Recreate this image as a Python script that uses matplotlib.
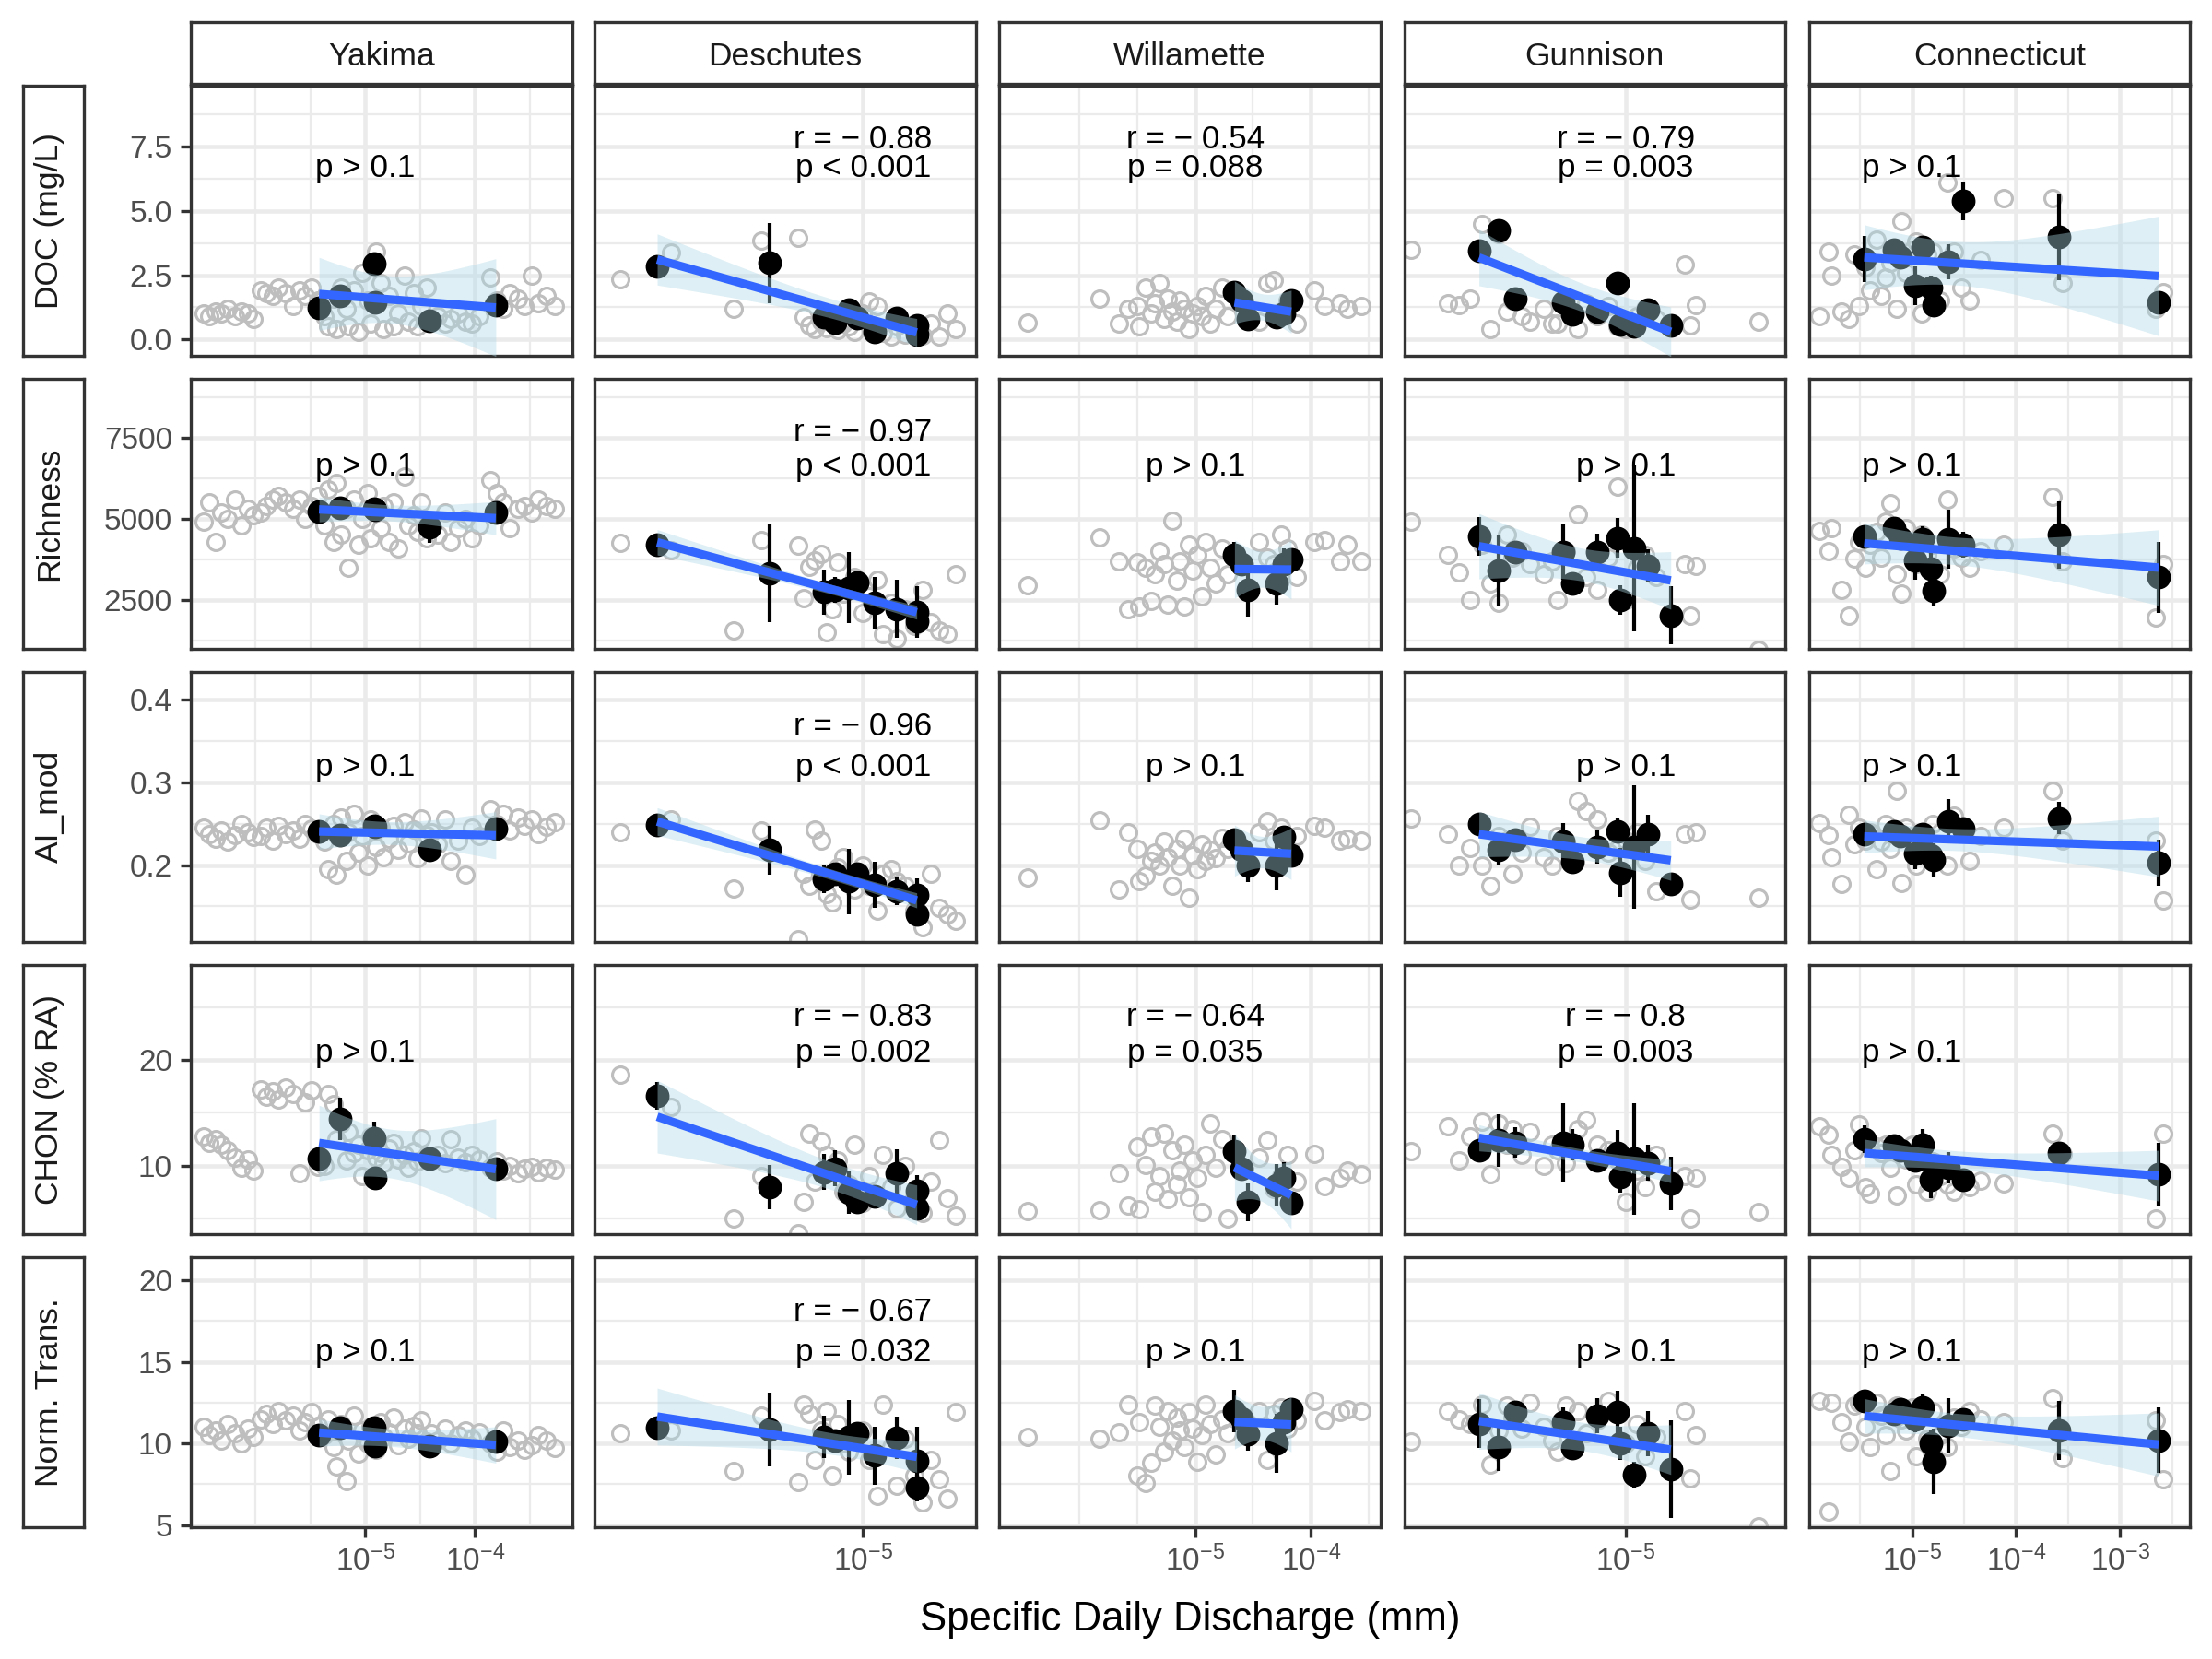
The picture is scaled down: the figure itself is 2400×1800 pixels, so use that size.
import numpy as np
import matplotlib
matplotlib.use("Agg")
import matplotlib.pyplot as plt
from matplotlib.ticker import FixedLocator, NullFormatter, LogFormatterMathtext

plt.rcParams["font.family"] = ["Liberation Sans", "DejaVu Sans"]
plt.rcParams["mathtext.fontset"] = "custom"
plt.rcParams["mathtext.rm"] = "Liberation Sans"
plt.rcParams["mathtext.it"] = "Liberation Sans"

RIVERS = ["Yakima", "Deschutes", "Willamette", "Gunnison", "Connecticut"]
VARS = ["DOC (mg/L)", "Richness", "AI_mod", "CHON (% RA)", "Norm. Trans."]

# ── raw samples (grey circles): log10 specific daily discharge, one list per river
yak_gx = [-6.47, -6.42, -6.36, -6.31, -6.25, -6.19, -6.13, -6.07, -6.02,
          -5.95, -5.90, -5.84, -5.79, -5.72, -5.66, -5.60, -5.55, -5.49, -5.43,
          -5.37, -5.34, -5.29, -5.26, -5.22, -5.17, -5.15, -5.10, -5.06, -5.03, -4.98, -4.95,
          -4.90, -4.86, -4.83, -4.78, -4.74, -4.70, -4.64, -4.61, -4.56, -4.52, -4.49, -4.44,
          -4.40, -4.34, -4.27, -4.22, -4.15, -4.09, -4.03, -3.96,
          -3.86, -3.80, -3.74, -3.68, -3.61, -3.55, -3.48, -3.42, -3.35, -3.27]
yak_g_doc = [1.0, 0.9, 1.1, 1.0, 1.2, 0.9, 1.1, 1.0, 0.8,
             1.9, 1.8, 1.7, 2.0, 1.8, 1.3, 1.9, 1.7, 2.0, 1.5,
             0.9, 0.5, 1.6, 0.4, 2.0, 1.2, 0.5, 1.9, 0.3, 2.6, 1.5, 0.6,
             3.4, 2.2, 0.4, 1.7, 0.5, 1.0, 2.5, 0.7, 1.8, 0.5, 1.3, 2.0,
             0.7, 0.9, 0.6, 0.8, 1.0, 0.7, 0.6, 0.9,
             2.4, 1.5, 1.2, 1.8, 1.6, 1.3, 2.5, 1.4, 1.7, 1.3]
yak_g_rich = [4900, 5500, 4300, 5200, 5000, 5600, 4800, 5300, 5100,
              5200, 5400, 5600, 5700, 5500, 5300, 5600, 5000, 5400, 5700,
              4800, 5900, 4300, 6100, 4500, 5300, 3500, 5600, 4200, 5000, 5800, 4400,
              5200, 4700, 5400, 4300, 5500, 4100, 6300, 4800, 5100, 4600, 5500, 4400,
              4900, 4500, 5200, 4300, 4700, 5000, 4400, 4800,
              6200, 5800, 5500, 4700, 5300, 5400, 5200, 5600, 5400, 5300]
yak_g_ai = [0.245, 0.238, 0.232, 0.242, 0.228, 0.236, 0.250, 0.240, 0.234,
            0.235, 0.245, 0.230, 0.248, 0.238, 0.242, 0.232, 0.250, 0.244, 0.237,
            0.228, 0.195, 0.250, 0.188, 0.258, 0.205, 0.240, 0.262, 0.215, 0.235, 0.200, 0.255,
            0.222, 0.245, 0.210, 0.232, 0.248, 0.218, 0.252, 0.226, 0.243, 0.208, 0.256, 0.236,
            0.240, 0.225, 0.255, 0.205, 0.230, 0.188, 0.245, 0.235,
            0.268, 0.250, 0.262, 0.242, 0.258, 0.248, 0.255, 0.238, 0.246, 0.252]
yak_g_chon = [12.8, 12.2, 12.5, 12.0, 11.5, 10.8, 9.8, 10.6, 9.5,
              17.2, 16.5, 17.0, 16.3, 17.4, 16.8, 9.3, 16.0, 17.1, 9.9,
              10.0, 16.8, 15.8, 12.5, 14.0, 10.5, 13.2, 11.2, 12.0, 9.0, 11.5, 12.8,
              10.8, 11.2, 10.2, 11.6, 12.2, 10.6, 11.0, 9.8, 11.4, 10.4, 12.6, 10.9,
              10.5, 11.0, 10.2, 12.5, 10.8, 10.3, 11.0, 10.6,
              9.8, 10.4, 9.5, 10.0, 9.3, 9.7, 9.9, 9.4, 9.8, 9.6]
yak_g_norm = [11.0, 10.5, 10.8, 10.2, 11.2, 10.6, 10.0, 10.9, 10.4,
              11.5, 11.8, 11.2, 12.0, 11.4, 11.7, 10.8, 11.3, 11.9, 11.1,
              10.5, 11.5, 9.8, 8.6, 11.2, 7.7, 10.2, 11.7, 9.4, 10.8, 10.0, 11.0,
              9.6, 11.3, 10.4, 10.7, 11.6, 9.9, 10.9, 10.3, 11.1, 10.6, 11.4, 10.1,
              10.6, 10.2, 10.9, 10.0, 10.5, 10.8, 10.3, 10.7,
              10.0, 9.5, 10.8, 9.8, 10.2, 9.6, 9.9, 10.5, 10.2, 9.7]

des_gx = [-5.86, -5.68, -5.46, -5.36, -5.23, -5.21, -5.19, -5.17, -5.15, -5.13,
          -5.11, -5.09, -5.07, -5.05, -5.03, -5.00, -4.98, -4.95, -4.93, -4.90,
          -4.88, -4.85, -4.82, -4.79, -4.76, -4.73, -4.70, -4.67]
des_g_doc = [2.34, 3.37, 1.19, 3.83, 3.94, 0.86, 0.55, 0.40, 0.70, 0.45,
             1.0, 0.35, 0.6, 0.5, 0.3, 1.0, 1.48, 1.3, 0.25, 0.1,
             0.5, 0.2, 0.3, 0.15, 0.6, 0.1, 1.0, 0.4]
des_g_rich = [4267, 4040, 1565, 4332, 4175, 2543, 3522, 3718, 3914, 1500,
              2217, 3653, 2700, 2900, 3196, 2100, 2600, 3131, 1434, 2400,
              1300, 2200, 1700, 2800, 1800, 1565, 1434, 3288]
des_g_ai = [0.24, 0.255, 0.172, 0.242, 0.11, 0.19, 0.175, 0.243, 0.23, 0.165,
            0.155, 0.197, 0.21, 0.185, 0.17, 0.2, 0.175, 0.145, 0.19, 0.195,
            0.18, 0.175, 0.145, 0.125, 0.19, 0.148, 0.14, 0.132]
des_g_chon = [18.6, 15.6, 5.0, 9.0, 3.6, 6.6, 13.0, 8.5, 12.3, 11.0,
              9.8, 10.5, 7.5, 8.2, 12.0, 6.5, 9.0, 7.1, 11.0, 8.0,
              6.0, 10.0, 7.0, 5.5, 8.5, 12.4, 6.9, 5.3]
des_g_norm = [10.6, 10.8, 8.3, 11.7, 7.65, 12.4, 11.8, 9.0, 10.8, 12.0,
              8.0, 11.2, 10.0, 9.5, 10.4, 10.8, 9.0, 6.8, 12.4, 9.8,
              7.4, 10.3, 8.0, 6.4, 9.0, 7.8, 6.6, 11.9]

wil_gx = [-6.45, -5.83, -5.66, -5.58, -5.50, -5.48, -5.43, -5.38, -5.35, -5.31,
          -5.27, -5.24, -5.20, -5.16, -5.13, -5.09, -5.05, -5.02, -4.98, -4.94,
          -4.91, -4.87, -4.82, -4.77, -4.72, -4.45, -4.38, -4.32, -4.26, -4.20,
          -4.12, -3.97, -3.88, -3.75, -3.68, -3.56]
wil_g_doc = [0.65, 1.6, 0.6, 1.2, 1.3, 0.5, 2.0, 1.0, 1.4, 2.2,
             0.8, 1.6, 1.1, 0.7, 1.5, 1.2, 0.4, 1.0, 1.3, 0.9,
             1.7, 0.6, 1.2, 2.0, 0.9, 0.7, 2.2, 2.3, 1.1, 1.5,
             0.6, 1.9, 1.3, 1.4, 1.2, 1.3]
wil_g_rich = [2950, 4430, 3700, 2200, 3650, 2300, 3500, 2450, 3300, 4000,
              3600, 2350, 4950, 3100, 3700, 2300, 4200, 3400, 3900, 2600,
              4300, 3500, 3000, 4100, 3300, 4300, 3800, 3600, 4500, 4100,
              3200, 4300, 4350, 3700, 4200, 3700]
wil_g_ai = [0.185, 0.254, 0.17, 0.24, 0.22, 0.18, 0.187, 0.205, 0.215, 0.199,
            0.228, 0.21, 0.175, 0.22, 0.2, 0.232, 0.16, 0.212, 0.195, 0.225,
            0.205, 0.218, 0.208, 0.233, 0.22, 0.24, 0.253, 0.23, 0.245, 0.209,
            0.235, 0.248, 0.245, 0.23, 0.232, 0.23]
wil_g_chon = [5.7, 5.8, 9.3, 6.2, 11.8, 5.9, 10.1, 12.8, 7.5, 9.0,
              13.0, 6.8, 11.5, 8.2, 9.5, 12.0, 7.0, 10.5, 8.8, 5.6,
              11.0, 14.0, 9.8, 12.5, 5.0, 10.8, 12.4, 7.8, 9.0, 11.0,
              8.5, 11.1, 8.1, 8.8, 9.5, 9.2]
wil_g_norm = [10.4, 10.3, 10.7, 12.4, 8.0, 11.3, 7.6, 8.8, 12.3, 11.0,
              9.5, 12.0, 10.2, 11.6, 10.8, 9.8, 11.9, 10.9, 8.9, 10.5,
              12.4, 11.2, 9.3, 11.5, 10.6, 12.0, 9.0, 11.8, 12.2, 10.9,
              11.4, 12.6, 11.4, 11.9, 12.1, 12.0]

gun_gx = [-5.76, -5.63, -5.59, -5.55, -5.51, -5.48, -5.45, -5.42, -5.40, -5.37,
          -5.34, -5.29, -5.26, -5.24, -5.21, -5.17, -5.14, -5.10, -5.06, -5.03,
          -5.00, -4.96, -4.93, -4.89, -4.79, -4.77, -4.75, -4.53]
gun_g_doc = [3.5, 1.4, 1.35, 1.6, 4.5, 0.4, 4.1, 1.1, 1.5, 0.9,
             0.7, 1.2, 0.6, 0.6, 1.3, 0.4, 1.4, 0.9, 1.3, 0.5,
             0.4, 0.9, 1.2, 0.8, 2.9, 0.55, 1.35, 0.7]
gun_g_rich = [4900, 3900, 3350, 2500, 4200, 3000, 2400, 4500, 3800, 4000,
              3600, 3300, 3700, 2500, 4000, 5150, 3200, 2800, 3800, 6000,
              2500, 3500, 3900, 3200, 3600, 2000, 3550, 950]
gun_g_ai = [0.256, 0.237, 0.199, 0.221, 0.2, 0.175, 0.235, 0.23, 0.19, 0.215,
            0.246, 0.21, 0.2, 0.235, 0.228, 0.278, 0.265, 0.255, 0.215, 0.22,
            0.23, 0.24, 0.205, 0.168, 0.237, 0.158, 0.24, 0.16]
gun_g_chon = [11.4, 13.7, 10.5, 12.8, 14.2, 9.2, 14.0, 12.0, 13.5, 11.0,
              13.2, 10.0, 12.0, 11.5, 10.2, 13.5, 14.3, 12.0, 11.5, 10.5,
              6.6, 9.5, 8.0, 11.0, 9.0, 5.0, 8.8, 5.6]
gun_g_norm = [10.1, 12.0, 11.5, 11.2, 12.4, 8.7, 10.8, 12.3, 11.6, 10.9,
              12.5, 11.0, 10.2, 9.5, 12.3, 12.0, 10.6, 11.4, 12.6, 11.8,
              10.0, 11.2, 9.2, 10.4, 12.0, 7.85, 10.5, 4.9]

con_gx = [-5.89, -5.80, -5.78, -5.68, -5.61, -5.55, -5.51, -5.45, -5.40, -5.34,
          -5.30, -5.25, -5.21, -5.15, -5.10, -5.06, -5.00, -4.96, -4.91, -4.85,
          -4.80, -4.73, -4.66, -4.60, -4.53, -4.45, -4.34, -4.12, -3.65, -3.55,
          -2.66, -2.59]
con_g_doc = [0.9, 3.4, 2.5, 1.1, 0.8, 3.3, 1.3, 2.8, 1.9, 3.9,
             1.7, 2.4, 3.0, 1.2, 4.6, 2.6, 3.5, 3.8, 1.0, 3.3,
             3.4, 1.5, 6.1, 3.4, 2.0, 1.5, 3.1, 5.5, 5.5, 2.2,
             1.2, 1.85]
con_g_rich = [4630, 4000, 4700, 2800, 2000, 3780, 4300, 3500, 4200, 4600,
              3800, 4900, 5480, 3300, 2700, 4700, 4300, 3600, 4500, 3900,
              4200, 3300, 5600, 4100, 3800, 3500, 4000, 4200, 5680, 3700,
              1950, 3590]
con_g_ai = [0.251, 0.236, 0.21, 0.177, 0.261, 0.225, 0.245, 0.23, 0.24, 0.195,
            0.228, 0.25, 0.22, 0.29, 0.178, 0.245, 0.235, 0.2, 0.23, 0.21,
            0.25, 0.24, 0.2, 0.26, 0.243, 0.205, 0.235, 0.245, 0.29, 0.23,
            0.23, 0.157]
con_g_chon = [13.7, 12.9, 11.0, 9.9, 8.8, 11.5, 13.9, 8.0, 7.4, 11.8,
              11.2, 12.0, 9.8, 7.2, 11.3, 10.6, 12.0, 8.2, 10.5, 7.5,
              10.4, 9.0, 8.2, 7.5, 8.5, 8.0, 8.6, 8.3, 13.0, 11.1,
              5.0, 13.0]
con_g_norm = [12.6, 5.8, 12.5, 11.3, 10.1, 12.3, 12.5, 11.0, 9.8, 12.5,
              11.7, 10.5, 8.3, 12.3, 11.5, 10.8, 12.2, 9.2, 11.8, 10.3,
              12.0, 10.5, 9.8, 11.6, 11.0, 12.0, 11.5, 11.3, 12.8, 9.1,
              11.4, 7.8]

# ── site means (black points, mean ± sd)
yak_bx = [-5.42, -5.23, -4.92, -4.91, -4.41, -3.81]
yak_b_doc = [1.24, 1.68, 2.95, 1.43, 0.73, 1.32]
yak_e_doc = [0.35, 0.15, 0.15, 0.2, 0.1, 0.35]
yak_b_rich = [5240, 5340, 5310, 5280, 4750, 5190]
yak_e_rich = [300, 200, 250, 200, 480, 300]
yak_b_ai = [0.241, 0.236, 0.248, 0.246, 0.218, 0.244]
yak_e_ai = [0.006, 0.005, 0.006, 0.005, 0.012, 0.012]
yak_b_chon = [10.7, 14.45, 12.6, 8.87, 10.64, 9.75]
yak_e_chon = [1.1, 2.0, 1.6, 0.5, 0.6, 0.6]
yak_b_norm = [10.51, 10.94, 10.94, 9.85, 9.85, 10.1]
yak_e_norm = [0.3, 0.3, 0.3, 0.3, 0.6, 0.3]

des_bx = [-5.73, -5.33, -5.14, -5.10, -5.05, -5.02, -4.96, -4.88, -4.81, -4.81]
des_b_doc = [2.84, 2.97, 0.86, 0.66, 1.14, 0.82, 0.28, 0.82, 0.53, 0.2]
des_e_doc = [0.45, 1.55, 0.15, 0.15, 0.25, 0.2, 0.2, 0.2, 0.2, 0.25]
des_b_rich = [4200, 3330, 2740, 2800, 2870, 3030, 2410, 2220, 2130, 1830]
des_e_rich = [150, 1520, 700, 400, 1100, 300, 800, 900, 800, 300]
des_b_ai = [0.249, 0.218, 0.183, 0.189, 0.180, 0.189, 0.176, 0.168, 0.164, 0.140]
des_e_ai = [0.004, 0.03, 0.017, 0.01, 0.04, 0.01, 0.028, 0.017, 0.02, 0.008]
des_b_chon = [16.6, 8.0, 9.4, 9.75, 7.44, 6.54, 7.08, 9.32, 7.61, 6.0]
des_e_chon = [1.3, 2.1, 1.7, 1.7, 2.0, 0.6, 0.8, 2.2, 1.5, 0.8]
des_b_norm = [10.94, 10.85, 10.38, 10.2, 10.38, 10.6, 9.25, 10.32, 8.91, 7.27]
des_e_norm = [0.3, 2.26, 1.3, 0.5, 2.3, 0.5, 1.8, 1.3, 2.1, 0.8]

wil_bx = [-4.66, -4.60, -4.54, -4.30, -4.23, -4.17]
wil_b_doc = [1.85, 1.52, 0.78, 0.86, 1.02, 1.52]
wil_e_doc = [0.2, 0.2, 0.15, 0.15, 0.1, 0.3]
wil_b_rich = [3900, 3600, 2800, 3000, 3600, 3750]
wil_e_rich = [400, 300, 830, 650, 500, 350]
wil_b_ai = [0.231, 0.219, 0.199, 0.199, 0.234, 0.212]
wil_e_ai = [0.012, 0.01, 0.02, 0.03, 0.01, 0.008]
wil_b_chon = [11.4, 9.75, 6.54, 8.16, 8.85, 6.5]
wil_e_chon = [1.5, 1.0, 1.8, 2.0, 1.5, 0.6]
wil_b_norm = [11.98, 11.51, 10.57, 10.0, 11.32, 12.07]
wil_e_norm = [1.3, 0.5, 1.0, 1.8, 0.9, 0.5]

gun_bx = [-5.52, -5.45, -5.39, -5.22, -5.19, -5.10, -5.03, -5.02, -4.97, -4.92, -4.84]
gun_b_doc = [3.45, 4.24, 1.57, 1.43, 0.99, 1.1, 2.21, 0.58, 0.5, 1.14, 0.53]
gun_e_doc = [0.3, 0.2, 0.15, 0.2, 0.15, 0.1, 0.35, 0.1, 0.1, 0.2, 0.1]
gun_b_rich = [4460, 3390, 3980, 3980, 3000, 3980, 4410, 2500, 4100, 3550, 2020]
gun_e_rich = [600, 1100, 300, 850, 300, 550, 620, 450, 2580, 520, 900]
gun_b_ai = [0.250, 0.219, 0.231, 0.228, 0.204, 0.222, 0.241, 0.191, 0.222, 0.237, 0.177]
gun_e_ai = [0.005, 0.02, 0.012, 0.023, 0.008, 0.02, 0.015, 0.03, 0.075, 0.024, 0.011]
gun_b_chon = [11.5, 12.4, 12.2, 12.2, 12.0, 10.47, 11.17, 8.93, 10.64, 10.28, 8.33]
gun_e_chon = [0.5, 2.5, 1.4, 3.7, 1.5, 0.8, 2.2, 1.5, 5.3, 1.7, 2.5]
gun_b_norm = [11.2, 9.8, 11.9, 11.3, 9.7, 11.7, 11.9, 10.0, 8.1, 10.6, 8.4]
gun_e_norm = [1.5, 1.5, 0.4, 0.9, 0.5, 1.1, 1.3, 1.0, 0.8, 1.4, 3.0]

con_bx = [-5.46, -5.17, -5.11, -4.97, -4.90, -4.82, -4.79, -4.65, -4.51, -3.59, -2.63]
con_b_doc = [3.12, 3.5, 3.2, 2.09, 3.6, 2.0, 1.35, 3.03, 5.39, 3.99, 1.43]
con_e_doc = [0.9, 0.3, 0.3, 0.74, 0.3, 0.5, 0.3, 0.68, 0.76, 1.7, 0.2]
con_b_rich = [4460, 4720, 4400, 3720, 4370, 3460, 2770, 4370, 4200, 4500, 3200]
con_e_rich = [250, 300, 300, 600, 400, 700, 450, 900, 400, 1050, 1100]
con_b_ai = [0.237, 0.241, 0.235, 0.2145, 0.238, 0.2115, 0.2064, 0.2533, 0.244, 0.257, 0.2032]
con_e_ai = [0.012, 0.008, 0.008, 0.02, 0.01, 0.018, 0.02, 0.027, 0.01, 0.02, 0.028]
con_b_chon = [12.5, 11.9, 11.5, 10.5, 12.0, 8.7, 10.0, 9.8, 8.7, 11.2, 9.2]
con_e_chon = [1.3, 0.6, 0.6, 1.0, 1.5, 1.8, 0.8, 1.5, 0.6, 1.0, 3.0]
con_b_norm = [12.6, 11.8, 12.1, 11.5, 12.2, 10.0, 8.9, 11.1, 11.5, 10.8, 10.2]
con_e_norm = [0.2, 0.5, 0.5, 0.8, 0.8, 0.8, 2.0, 1.7, 0.5, 1.8, 2.0]

# ── correlation labels (None = not significant)
r_doc = [None, "0.88", "0.54", "0.79", None]
p_doc = ["p > 0.1", "p < 0.001", "p = 0.088", "p = 0.003", "p > 0.1"]
r_rich = [None, "0.97", None, None, None]
p_rich = ["p > 0.1", "p < 0.001", "p > 0.1", "p > 0.1", "p > 0.1"]
r_ai = [None, "0.96", None, None, None]
p_ai = ["p > 0.1", "p < 0.001", "p > 0.1", "p > 0.1", "p > 0.1"]
r_chon = [None, "0.83", "0.64", "0.8", None]
p_chon = ["p > 0.1", "p = 0.002", "p = 0.035", "p = 0.003", "p > 0.1"]
r_norm = [None, "0.67", None, None, None]
p_norm = ["p > 0.1", "p = 0.032", "p > 0.1", "p > 0.1", "p > 0.1"]

# x breaks (powers of ten) labelled in each column
x_breaks = [[-5, -4], [-5], [-5, -4], [-5], [-5, -4, -3]]

# ── assemble lookup tables
GX = [yak_gx, des_gx, wil_gx, gun_gx, con_gx]
GY = [[yak_g_doc, yak_g_rich, yak_g_ai, yak_g_chon, yak_g_norm],
      [des_g_doc, des_g_rich, des_g_ai, des_g_chon, des_g_norm],
      [wil_g_doc, wil_g_rich, wil_g_ai, wil_g_chon, wil_g_norm],
      [gun_g_doc, gun_g_rich, gun_g_ai, gun_g_chon, gun_g_norm],
      [con_g_doc, con_g_rich, con_g_ai, con_g_chon, con_g_norm]]
BX = [yak_bx, des_bx, wil_bx, gun_bx, con_bx]
BY = [[yak_b_doc, yak_b_rich, yak_b_ai, yak_b_chon, yak_b_norm],
      [des_b_doc, des_b_rich, des_b_ai, des_b_chon, des_b_norm],
      [wil_b_doc, wil_b_rich, wil_b_ai, wil_b_chon, wil_b_norm],
      [gun_b_doc, gun_b_rich, gun_b_ai, gun_b_chon, gun_b_norm],
      [con_b_doc, con_b_rich, con_b_ai, con_b_chon, con_b_norm]]
BE = [[yak_e_doc, yak_e_rich, yak_e_ai, yak_e_chon, yak_e_norm],
      [des_e_doc, des_e_rich, des_e_ai, des_e_chon, des_e_norm],
      [wil_e_doc, wil_e_rich, wil_e_ai, wil_e_chon, wil_e_norm],
      [gun_e_doc, gun_e_rich, gun_e_ai, gun_e_chon, gun_e_norm],
      [con_e_doc, con_e_rich, con_e_ai, con_e_chon, con_e_norm]]
R_LAB = [r_doc, r_rich, r_ai, r_chon, r_norm]
P_LAB = [p_doc, p_rich, p_ai, p_chon, p_norm]

# ── layout (pixels of the 2400 x 1800 canvas)
W, H = 2400, 1800
PANEL_LEFT = [207, 645.4, 1084.4, 1523.5, 1962.6]
PANEL_TOP = [93.2, 411.4, 729.0, 1046.5, 1364.3]
PANEL_W, PANEL_H = 413.5, 292.5
STRIP_TOP, STRIP_H = 23.9, 66.6
RSTRIP_LEFT, RSTRIP_W = 24.5, 66.7

XLIM = [(-6.589, -3.116), (-5.951, -4.600), (-6.692, -3.397),
        (-5.785, -4.434), (-5.992, -2.328)]
YLIM = [(-0.63, 9.87), (986, 9315), (0.1074, 0.434), (3.52, 29.04), (4.87, 21.41)]
YMAJ = [[0, 2.5, 5, 7.5], [2500, 5000, 7500], [0.2, 0.3, 0.4], [10, 20], [5, 10, 15, 20]]
YLAB = [["0.0", "2.5", "5.0", "7.5"], ["2500", "5000", "7500"],
        ["0.2", "0.3", "0.4"], ["10", "20"], ["5", "10", "15", "20"]]
P_Y = [6.68, 6608, 0.318, 20.7, 15.57]
R_Y = [7.78, 7652, 0.368, 24.05, 18.08]

T975 = {1: 12.706, 2: 4.303, 3: 3.182, 4: 2.776, 5: 2.571, 6: 2.447,
        7: 2.365, 8: 2.306, 9: 2.262, 10: 2.228, 11: 2.201, 12: 2.179}

GRID = "#EBEBEB"
EDGE = "#333333"


def rect(left, top, w, h):
    return [left / W, 1 - (top + h) / H, w / W, h / H]


def lm_band(x, y, n_pts=80):
    x = np.asarray(x, float)
    y = np.asarray(y, float)
    n = len(x)
    b, a = np.polyfit(x, y, 1)
    resid = y - (a + b * x)
    s = np.sqrt(np.sum(resid ** 2) / (n - 2))
    sxx = np.sum((x - x.mean()) ** 2)
    xs = np.linspace(x.min(), x.max(), n_pts)
    fit = a + b * xs
    se = s * np.sqrt(1.0 / n + (xs - x.mean()) ** 2 / sxx)
    t = T975[n - 2]
    return xs, fit, fit - t * se, fit + t * se


fig = plt.figure(figsize=(8, 6), dpi=300)

for c, river in enumerate(RIVERS):
    lo, hi = XLIM[c]
    ks = x_breaks[c]
    majors = [10.0 ** k for k in ks]
    minors = []
    if len(ks) >= 2:
        ext = list(range(ks[0] - 1, ks[-1] + 2))
        cand = [k + 0.5 for k in ext[:-1]] + [float(k) for k in ext if k not in ks]
        minors = [10.0 ** m for m in cand if lo <= m <= hi]

    # column strip
    sax = fig.add_axes(rect(PANEL_LEFT[c], STRIP_TOP, PANEL_W, STRIP_H))
    sax.set_xticks([]); sax.set_yticks([])
    for sp in sax.spines.values():
        sp.set_color(EDGE); sp.set_linewidth(0.8)
    sax.text(0.5, 0.44, river, ha="center", va="center", fontsize=8.5,
             color="#1A1A1A", transform=sax.transAxes)

    for r, var in enumerate(VARS):
        ax = fig.add_axes(rect(PANEL_LEFT[c], PANEL_TOP[r], PANEL_W, PANEL_H))
        ax.set_xscale("log")
        ax.set_xlim(10 ** lo, 10 ** hi)
        ax.set_ylim(*YLIM[r])
        ax.xaxis.set_major_locator(FixedLocator(majors))
        ax.xaxis.set_minor_locator(FixedLocator(minors))
        ax.xaxis.set_minor_formatter(NullFormatter())
        step = YMAJ[r][1] - YMAJ[r][0]
        ymin = [YMAJ[r][0] - step / 2] + [v + step / 2 for v in YMAJ[r]]
        ax.yaxis.set_major_locator(FixedLocator(YMAJ[r]))
        ax.yaxis.set_minor_locator(FixedLocator(ymin))
        ax.grid(which="major", color=GRID, lw=1.1)
        ax.grid(which="minor", color=GRID, lw=0.55)
        ax.set_axisbelow(True)
        for sp in ax.spines.values():
            sp.set_color(EDGE); sp.set_linewidth(0.8)
        ax.tick_params(which="minor", length=0)
        ax.tick_params(which="major", color=EDGE, width=0.8, length=2.6,
                       labelsize=8, labelcolor="#4D4D4D", pad=2.2)
        if r == len(VARS) - 1:
            ax.xaxis.set_major_formatter(LogFormatterMathtext())
        else:
            ax.tick_params(axis="x", length=0, labelbottom=False)
        if c == 0:
            ax.set_yticklabels(YLAB[r])
        else:
            ax.tick_params(axis="y", length=0, labelleft=False)

        # raw samples
        gx = 10.0 ** np.asarray(GX[c])
        ax.plot(gx, GY[c][r], "o", mfc="none", mec="#BEBEBE", ms=4.3,
                mew=0.75, zorder=2)
        # site means
        bx = 10.0 ** np.asarray(BX[c])
        ax.errorbar(bx, BY[c][r], yerr=BE[c][r], fmt="o", color="black",
                    ms=5.2, elinewidth=1.0, capsize=0, zorder=3)
        # linear fit with 95% CI on the means
        xs, fit, band_lo, band_hi = lm_band(BX[c], BY[c][r])
        ax.fill_between(10.0 ** xs, band_lo, band_hi, color="lightblue",
                        alpha=0.4, lw=0, zorder=4)
        ax.plot(10.0 ** xs, fit, color="#3366FF", lw=2.2, zorder=5,
                solid_capstyle="butt")

        # labels
        ax.text(1e-5, P_Y[r], P_LAB[r][c], ha="center", va="center",
                fontsize=8.4, color="black", zorder=6)
        if R_LAB[r][c] is not None:
            ax.text(1e-5, R_Y[r], "r = \u2212 " + R_LAB[r][c], ha="center",
                    va="center", fontsize=8.4, color="black", zorder=6)

        if c == 0:
            rax = fig.add_axes(rect(RSTRIP_LEFT, PANEL_TOP[r], RSTRIP_W, PANEL_H))
            rax.set_xticks([]); rax.set_yticks([])
            for sp in rax.spines.values():
                sp.set_color(EDGE); sp.set_linewidth(0.8)
            rax.text(0.44, 0.5, var, ha="center", va="center", rotation=90,
                     fontsize=8.5, color="#1A1A1A", transform=rax.transAxes)

fig.text(1291.5 / W, 1 - 1758 / H, "Specific Daily Discharge (mm)",
         ha="center", va="center", fontsize=10.5, color="black")

fig.savefig("out.png", dpi=300)
